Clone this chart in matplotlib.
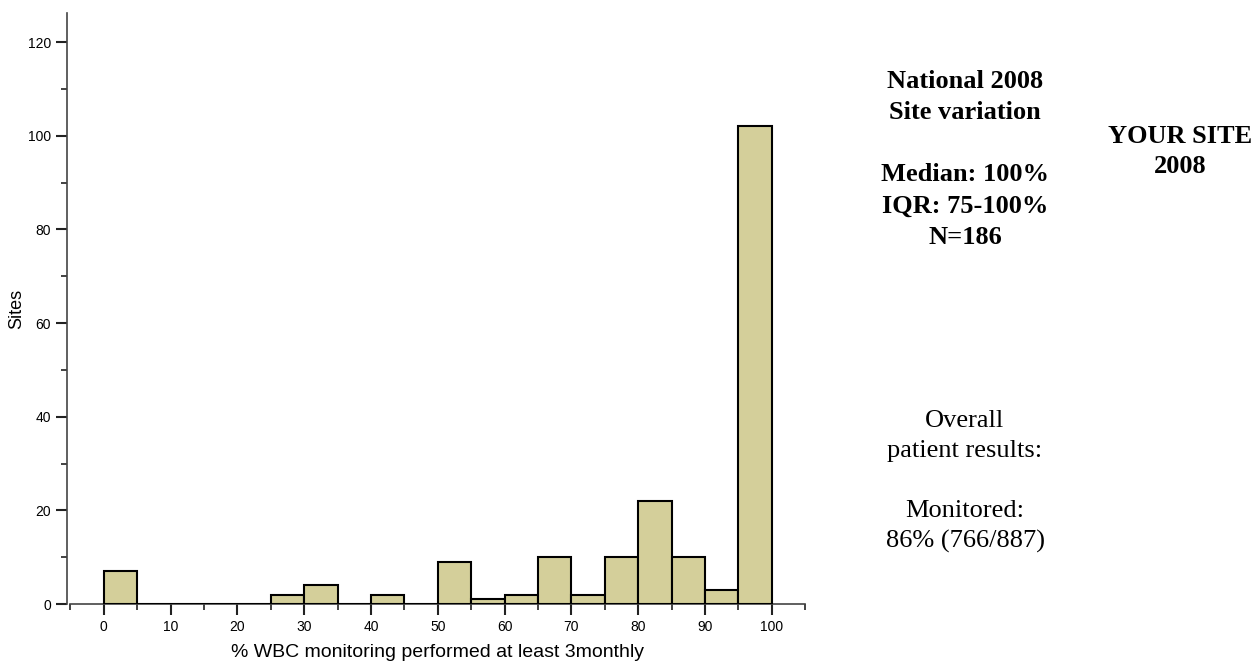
import numpy as np
import matplotlib.pyplot as plt
from matplotlib.ticker import MultipleLocator

# histogram of sites, bins 5% wide
bin_left = [0, 5, 10, 15, 20, 25, 30, 35, 40, 45, 50, 55, 60, 65, 70, 75, 80, 85, 90, 95]
sites = [7, 0, 0, 0, 0, 2, 4, 0, 2, 0, 9, 1, 2, 10, 2, 10, 22, 10, 3, 102]
BIN_W = 5

national_txt = "National 2008\nSite variation\n\nMedian: 100%\nIQR: 75-100%\nN=186"
site_txt = "YOUR SITE\n2008"
overall_txt = "Overall\npatient results:\n\nMonitored:\n86% (766/887)"

plt.rcParams['font.family'] = ['Liberation Sans', 'DejaVu Sans']

fig = plt.figure(figsize=(12.55, 6.61), dpi=100)
ax = fig.add_axes([67/1255, 57/661, 741.5/1255, 591/661])

ax.bar(bin_left, sites, width=BIN_W, align='edge', color='#d4cf9a',
       edgecolor='black', linewidth=1.5, zorder=3)

ax.set_xlim(-5.5, 105.5)
ax.set_ylim(0, 126.2)
ax.spines['top'].set_visible(False)
ax.spines['right'].set_visible(False)
ax.spines['bottom'].set_bounds(-5, 105)
for s in ['left', 'bottom']:
    ax.spines[s].set_color('#444444')
    ax.spines[s].set_linewidth(1.2)

ax.set_xticks(np.arange(0, 101, 10))
ax.set_xticks(np.arange(-5, 106, 5), minor=True)
ax.yaxis.set_major_locator(MultipleLocator(20))
ax.yaxis.set_minor_locator(MultipleLocator(10))
ax.tick_params(which='major', length=8, width=1.5, labelsize=10, color='#222222')
ax.tick_params(which='minor', length=4, width=1.2, color='#222222')

ax.set_ylabel("Sites", fontsize=13)
ax.yaxis.set_label_coords(-0.057, 0.5)
ax.set_xlabel("% WBC monitoring performed at least 3monthly", fontsize=14, labelpad=7)

serif = ['Liberation Serif', 'DejaVu Serif']
fig.text(965/1255, 1 - 70/661, national_txt, ha='center', va='top', fontsize=19,
         fontweight='bold', family=serif, linespacing=1.45)
fig.text(1180/1255, 1 - 125/661, site_txt, ha='center', va='top', fontsize=19,
         fontweight='bold', family=serif, linespacing=1.4)
fig.text(965/1255, 1 - 410/661, overall_txt, ha='center', va='top', fontsize=19,
         family=serif, linespacing=1.47)

fig.savefig("out.png", dpi=100)
